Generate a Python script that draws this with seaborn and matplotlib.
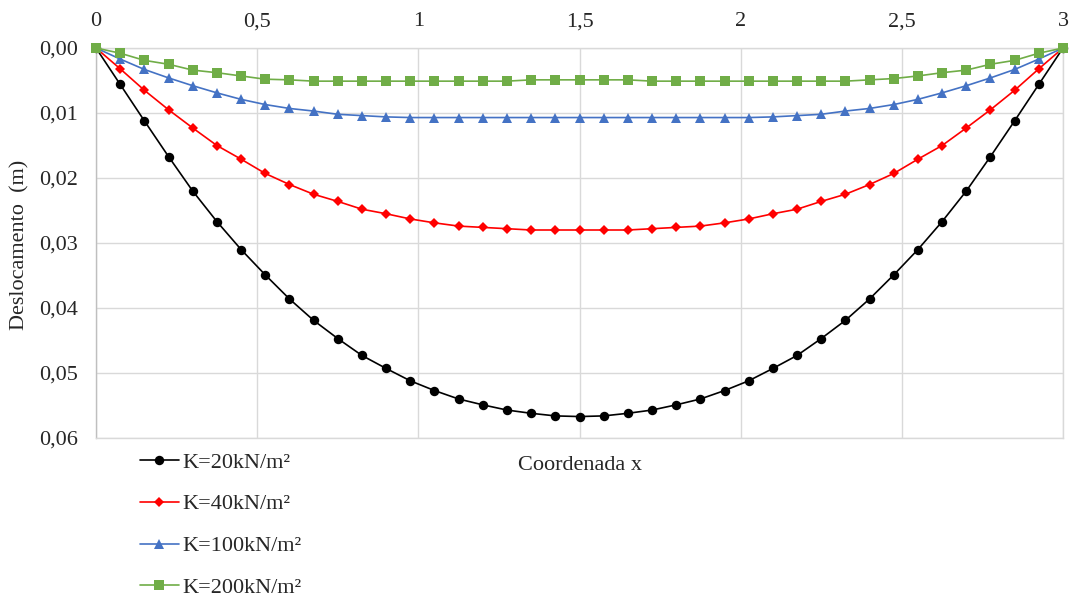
import matplotlib
matplotlib.use("Agg")
import matplotlib.pyplot as plt
import seaborn as sns
import numpy as np

x = [0.000, 0.075, 0.150, 0.225, 0.300, 0.375, 0.450, 0.525, 0.600, 0.675,
     0.750, 0.825, 0.900, 0.975, 1.050, 1.125, 1.200, 1.275, 1.350, 1.425,
     1.500, 1.575, 1.650, 1.725, 1.800, 1.875, 1.950, 2.025, 2.100, 2.175,
     2.250, 2.325, 2.400, 2.475, 2.550, 2.625, 2.700, 2.775, 2.850, 2.925,
     3.000]

k20 = [0.0, 0.0056, 0.0112, 0.0167, 0.0220, 0.0267, 0.0310, 0.0349, 0.0386, 0.0419,
       0.0447, 0.0473, 0.0493, 0.0512, 0.0527, 0.0540, 0.0549, 0.0557, 0.0562, 0.0566,
       0.0567, 0.0566, 0.0562, 0.0557, 0.0549, 0.0540, 0.0527, 0.0512, 0.0493, 0.0473,
       0.0447, 0.0419, 0.0386, 0.0349, 0.0310, 0.0267, 0.0220, 0.0167, 0.0112, 0.0056,
       0.0]
k40 = [0.0, 0.0032, 0.0065, 0.0095, 0.0123, 0.0150, 0.0171, 0.0193, 0.0210, 0.0225,
       0.0236, 0.0248, 0.0255, 0.0263, 0.0269, 0.0274, 0.0276, 0.0278, 0.0280, 0.0280,
       0.0280, 0.0280, 0.0280, 0.0278, 0.0276, 0.0274, 0.0269, 0.0263, 0.0255, 0.0248,
       0.0236, 0.0225, 0.0210, 0.0193, 0.0171, 0.0150, 0.0123, 0.0095, 0.0065, 0.0032,
       0.0]
k100 = [0.0, 0.0017, 0.0033, 0.0046, 0.0058, 0.0069, 0.0079, 0.0087, 0.0093, 0.0097,
        0.0102, 0.0104, 0.0106, 0.0107, 0.0107, 0.0107, 0.0107, 0.0107, 0.0107, 0.0107,
        0.0107, 0.0107, 0.0107, 0.0107, 0.0107, 0.0107, 0.0107, 0.0107, 0.0106, 0.0104,
        0.0102, 0.0097, 0.0093, 0.0087, 0.0079, 0.0069, 0.0058, 0.0046, 0.0033, 0.0017,
        0.0]
k200 = [0.0, 0.0008, 0.0019, 0.0025, 0.0034, 0.0038, 0.0043, 0.0048, 0.0049, 0.0051,
        0.0051, 0.0051, 0.0051, 0.0051, 0.0051, 0.0051, 0.0051, 0.0051, 0.0049, 0.0049,
        0.0049, 0.0049, 0.0049, 0.0051, 0.0051, 0.0051, 0.0051, 0.0051, 0.0051, 0.0051,
        0.0051, 0.0051, 0.0049, 0.0047, 0.0043, 0.0038, 0.0034, 0.0025, 0.0019, 0.0008,
        0.0]

labels = ["K=20kN/m²", "K=40kN/m²", "K=100kN/m²", "K=200kN/m²"]
xticks = [0, 0.5, 1, 1.5, 2, 2.5, 3]
xticklabels = ["0", "0,5", "1", "1,5", "2", "2,5", "3"]
yticks = [0.00, 0.01, 0.02, 0.03, 0.04, 0.05, 0.06]
yticklabels = ["0,00", "0,01", "0,02", "0,03", "0,04", "0,05", "0,06"]

sns.set_style("white")
plt.rcParams['font.family'] = ['Liberation Serif', 'DejaVu Serif']
FS = 16

fig = plt.figure(figsize=(10.71, 6.01), dpi=100)
W, H = 1071, 601
ax = fig.add_axes([96 / W, 1 - 438 / H, (1063 - 96) / W, (438 - 48) / H])

series = [k20, k40, k100, k200]
colors = ["#000000", "#FF0000", "#4472C4", "#70AD47"]
markers = ["o", "D", "^", "s"]
msizes = [6.8, 4.8, 7.0, 6.6]

for vals, lab, c, m, ms in zip(series, labels, colors, markers, msizes):
    sns.lineplot(x=x, y=vals, ax=ax, color=c, marker=m, markersize=ms,
                 markeredgewidth=0, linewidth=1.2, label=lab, clip_on=False,
                 zorder=3)

ax.set_xlim(0, 3)
ax.set_ylim(0.06, 0.0)
ax.set_xticks(xticks)
ax.set_xticklabels(xticklabels)
ax.set_yticks(yticks)
ax.set_yticklabels(yticklabels)
ax.xaxis.tick_top()
ax.tick_params(axis="x", length=0, pad=12, labelsize=FS)
ax.tick_params(axis="y", length=0, pad=13, labelsize=FS)
ax.grid(True, color="#d9d9d9", linewidth=1.0)
ax.set_axisbelow(True)
for s in ax.spines.values():
    s.set_color("#d9d9d9")
    s.set_linewidth(1.0)
ax.spines["left"].set_color("#bfbfbf")
ax.set_xlabel("")
ax.set_ylabel("")

handles, labs = ax.get_legend_handles_labels()
ax.get_legend().remove()
fig.legend(handles, labs, loc="upper left", bbox_to_anchor=(140 / W, 1 - 452 / H),
           frameon=False, fontsize=FS, handlelength=1.75, handletextpad=0.15,
           labelspacing=0.96, borderpad=0, borderaxespad=0)

fig.text(579.5 / W, 1 - 465 / H, "Coordenada x", ha="center", va="center", fontsize=FS)
fig.text(20 / W, 1 - 245 / H, "Deslocamento  (m)", ha="center", va="center",
         rotation=90, fontsize=FS)

fig.savefig("out.png", dpi=100)
